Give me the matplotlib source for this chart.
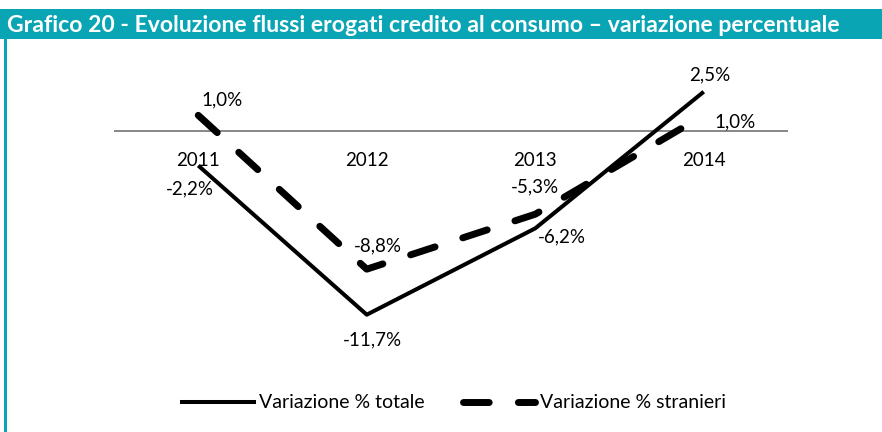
import matplotlib
matplotlib.use('Agg')
import matplotlib.pyplot as plt
from matplotlib.patches import Rectangle
from matplotlib.lines import Line2D

plt.rcParams['font.family'] = ['Lato', 'DejaVu Sans']

anni = ['2011', '2012', '2013', '2014']
totale = [-2.2, -11.7, -6.2, 2.5]
stranieri = [1.0, -8.8, -5.3, 1.0]
etichette_tot = ['-2,2%', '-11,7%', '-6,2%', '2,5%']
etichette_str = ['1,0%', '-8,8%', '-5,3%', '1,0%']

TEAL = '#0aa5b5'

fig = plt.figure(figsize=(8.82, 4.32), dpi=100)

# barra del titolo e bordo sinistro
fig.patches.append(Rectangle((0, 1 - 39 / 432), 1, 30 / 432, transform=fig.transFigure,
                             facecolor=TEAL, edgecolor='none'))
fig.patches.append(Rectangle((4 / 882, 0), 2.5 / 882, 1 - 39 / 432, transform=fig.transFigure,
                             facecolor=TEAL, edgecolor='none'))
fig.text(7 / 882, 1 - 25 / 432, 'Grafico 20 - Evoluzione flussi erogati credito al consumo – variazione percentuale',
         color='white', fontsize=16.6, fontweight='bold', va='center', ha='left')

ax = fig.add_axes([114 / 882, (432 - 350.8) / 432, (788 - 114) / 882, (350.8 - 52.5) / 432])
x = list(range(len(anni)))
ax.plot(x, totale, color='black', lw=2.9, solid_capstyle='butt', label='Variazione % totale')
ax.plot(x, stranieri, color='black', lw=5, dashes=(3.7, 4.2), dash_capstyle='round',
        label='Variazione % stranieri')
ax.axhline(0, color='#868686', lw=1.4, zorder=0)
ax.set_xlim(-0.5, 3.5)
ax.set_ylim(-14, 5)
ax.axis('off')

for i, a in enumerate(anni):
    ax.text(i, -1.9, a, ha='center', va='center', fontsize=13.5)

# etichette dei dati (offset in pixel)
off_tot = [(-8, -23), (6, -25), (27, -9), (6, 17)]
off_str = [(24, 15), (11, 23), (0, 27), (31, -7)]
for i in range(4):
    ax.annotate(etichette_tot[i], (x[i], totale[i]), xytext=off_tot[i], textcoords='offset pixels',
                ha='center', va='center', fontsize=13.5)
    ax.annotate(etichette_str[i], (x[i], stranieri[i]), xytext=off_str[i], textcoords='offset pixels',
                ha='center', va='center', fontsize=13.5)

handles = [Line2D([], [], color='black', lw=2.9),
           Line2D([], [], color='black', lw=5, dashes=(3.7, 4.2), dash_capstyle='round')]
fig.legend(handles, ['Variazione % totale', 'Variazione % stranieri'], loc='center',
           bbox_to_anchor=(0.515, 1 - 403 / 432), ncol=2, frameon=False, fontsize=14,
           handlelength=3.7, handletextpad=0.25, columnspacing=2.0)

fig.savefig('out.png', dpi=100)
